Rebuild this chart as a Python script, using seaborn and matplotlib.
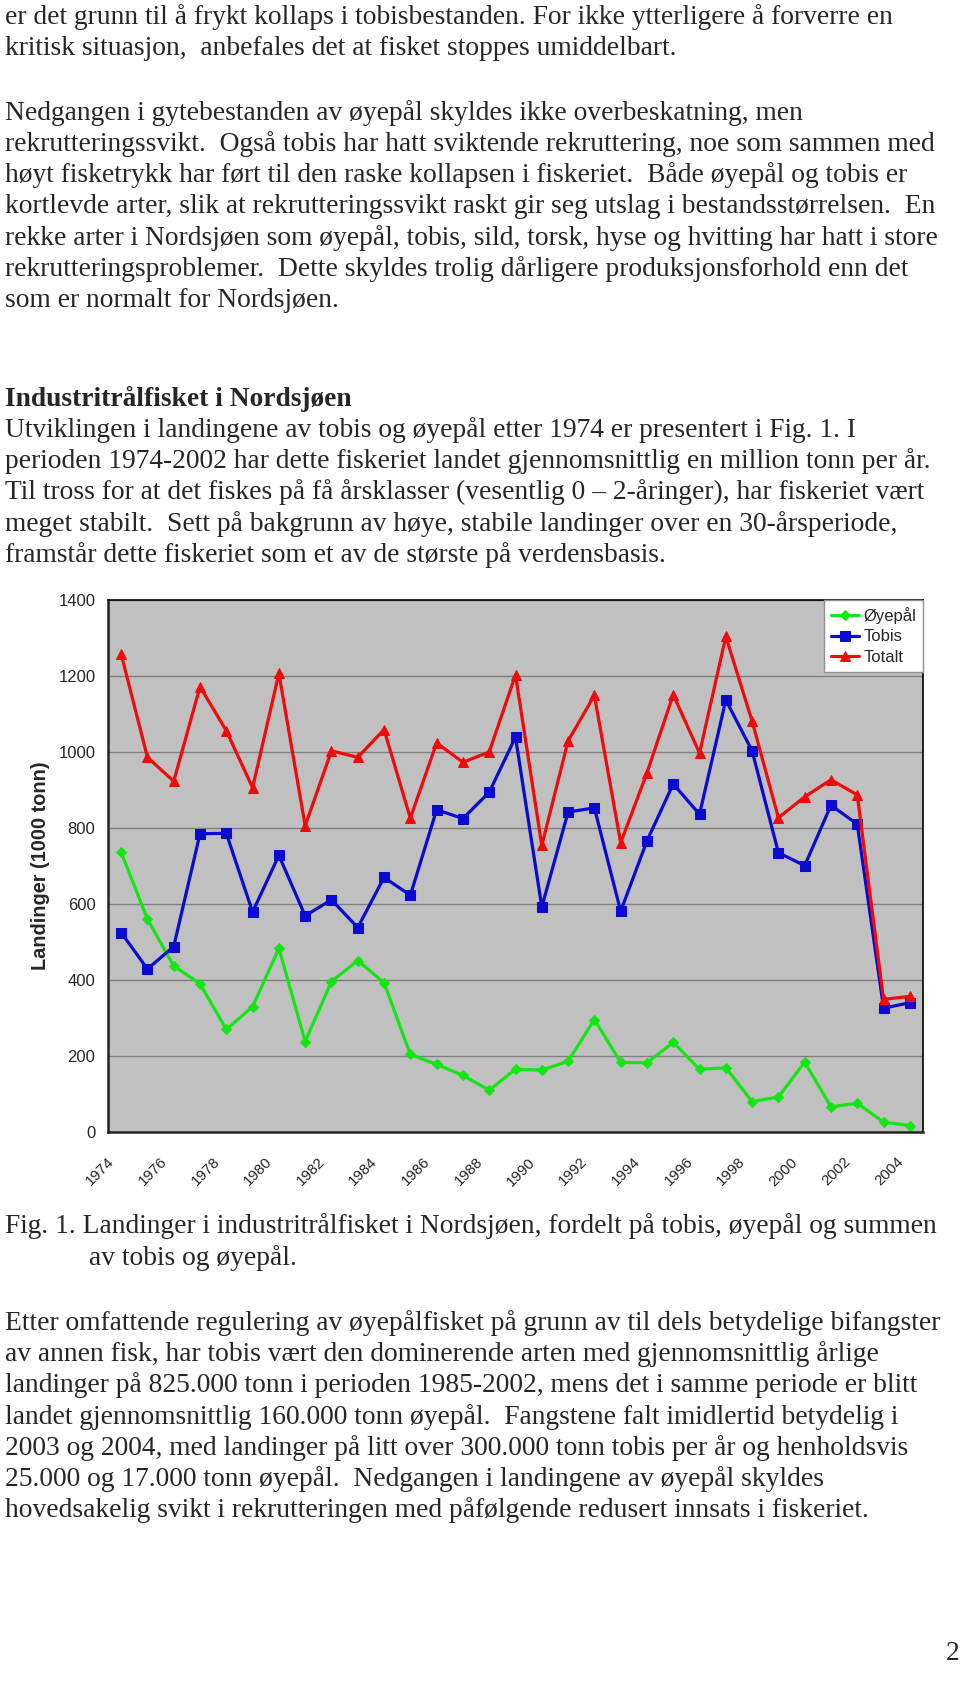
import matplotlib
matplotlib.use("Agg")
import pandas as pd
import matplotlib.pyplot as plt
import matplotlib.transforms as mtransforms
import seaborn as sns
from matplotlib.ticker import FixedLocator

# =========================
# DATA (1000 tonn)
# =========================

years = list(range(1974, 2005))

oyepal = [736, 560, 437, 390, 270, 330, 483, 238, 396, 451, 393, 204, 178, 149, 110,
          165, 163, 186, 296, 183, 182, 236, 165, 169, 80, 92, 184, 66, 76, 26, 17]
tobis = [525, 429, 488, 785, 786, 579, 728, 569, 611, 538, 670, 623, 848, 825, 894,
         1039, 592, 842, 853, 581, 766, 916, 836, 1137, 1003, 735, 701, 860, 810, 326, 340]
totalt = [1258, 986, 923, 1172, 1056, 906, 1207, 806, 1003, 986, 1059, 826, 1024, 973, 1000,
          1203, 754, 1029, 1149, 761, 945, 1151, 997, 1304, 1081, 827, 882, 927, 887, 349, 357]

series_names = ["Øyepål", "Tobis", "Totalt"]
series_colors = ["#14E614", "#0A0AD2", "#F00A0A"]
series_markers = ["D", "s", "^"]
series_sizes = [5, 6.5, 7.5]

year_labels = [str(y) for y in years if y % 2 == 0]

# =========================
# PAGE TEXT
# =========================

para1 = [
    "er det grunn til å frykt kollaps i tobisbestanden. For ikke ytterligere å forverre en",
    "kritisk situasjon,  anbefales det at fisket stoppes umiddelbart.",
]
para2 = [
    "Nedgangen i gytebestanden av øyepål skyldes ikke overbeskatning, men",
    "rekrutteringssvikt.  Også tobis har hatt sviktende rekruttering, noe som sammen med",
    "høyt fisketrykk har ført til den raske kollapsen i fiskeriet.  Både øyepål og tobis er",
    "kortlevde arter, slik at rekrutteringssvikt raskt gir seg utslag i bestandsstørrelsen.  En",
    "rekke arter i Nordsjøen som øyepål, tobis, sild, torsk, hyse og hvitting har hatt i store",
    "rekrutteringsproblemer.  Dette skyldes trolig dårligere produksjonsforhold enn det",
    "som er normalt for Nordsjøen.",
]
heading = "Industritrålfisket i Nordsjøen"
para3 = [
    "Utviklingen i landingene av tobis og øyepål etter 1974 er presentert i Fig. 1. I",
    "perioden 1974-2002 har dette fiskeriet landet gjennomsnittlig en million tonn per år.",
    "Til tross for at det fiskes på få årsklasser (vesentlig 0 – 2-åringer), har fiskeriet vært",
    "meget stabilt.  Sett på bakgrunn av høye, stabile landinger over en 30-årsperiode,",
    "framstår dette fiskeriet som et av de største på verdensbasis.",
]
caption = [
    "Fig. 1. Landinger i industritrålfisket i Nordsjøen, fordelt på tobis, øyepål og summen",
    "av tobis og øyepål.",
]
para4 = [
    "Etter omfattende regulering av øyepålfisket på grunn av til dels betydelige bifangster",
    "av annen fisk, har tobis vært den dominerende arten med gjennomsnittlig årlige",
    "landinger på 825.000 tonn i perioden 1985-2002, mens det i samme periode er blitt",
    "landet gjennomsnittlig 160.000 tonn øyepål.  Fangstene falt imidlertid betydelig i",
    "2003 og 2004, med landinger på litt over 300.000 tonn tobis per år og henholdsvis",
    "25.000 og 17.000 tonn øyepål.  Nedgangen i landingene av øyepål skyldes",
    "hovedsakelig svikt i rekrutteringen med påfølgende redusert innsats i fiskeriet.",
]

# =========================
# FIGURE
# =========================

W, H = 960, 1686
sns.set_style("white")
plt.rcParams["font.family"] = ["Liberation Serif", "DejaVu Serif"]

fig = plt.figure(figsize=(W / 100, H / 100), dpi=100)
fig.patch.set_facecolor("white")

SERIF = 19.85
LINE = 31.2


def put(x, y, s, **kw):
    fig.text(x / W, 1 - y / H, s, va="center", ha="left", **kw)


def block(lines, y0, x=5, **kw):
    for i, s in enumerate(lines):
        put(x, y0 + i * LINE, s, fontsize=SERIF, **kw)


block(para1, 17)
block(para2, 113)
put(5, 399, heading, fontsize=SERIF, fontweight="bold")
block(para3, 430)
put(5, 1226, caption[0], fontsize=SERIF)
put(89, 1258, caption[1], fontsize=SERIF)
block(para4, 1323)
put(946, 1654, "2", fontsize=SERIF)

# =========================
# CHART
# =========================

ax = fig.add_axes([108 / W, 1 - 1132 / H, 815 / W, 532 / H])
ax.set_facecolor("#C0C0C0")

df = pd.DataFrame({"År": years, "Øyepål": oyepal, "Tobis": tobis, "Totalt": totalt})

for name, col, mk, ms in zip(series_names, series_colors, series_markers, series_sizes):
    sns.lineplot(data=df, x="År", y=name, ax=ax, color=col, marker=mk,
                 markersize=ms, markeredgecolor=col, linewidth=2.3, label=name)

ax.set_xlim(years[0] - 0.5, years[-1] + 0.5)
ax.set_ylim(0, 1400)
ax.set_yticks(range(0, 1401, 200))
ax.yaxis.grid(True, color="#808080", linewidth=1)
ax.set_axisbelow(True)

ax.set_xticks([y for y in years if y % 2 == 0])
ax.set_xticklabels(year_labels, rotation=45, ha="right", va="center",
                   rotation_mode="anchor", family="Liberation Sans", fontsize=10.8)
ax.tick_params(axis="x", which="major", length=0, pad=20)
ax.xaxis.set_minor_locator(FixedLocator([y - 0.5 for y in years] + [years[-1] + 0.5]))
ax.tick_params(axis="x", which="minor", length=5, width=1, color="#333333")
ax.tick_params(axis="y", which="major", length=5, width=1, color="#333333", pad=4)
for lbl in ax.get_yticklabels():
    lbl.set_family("Liberation Sans")
    lbl.set_fontsize(12)

# nudge the slanted year labels a little to the left, like Excel does
shift = mtransforms.ScaledTranslation(-9 / 100, 0, fig.dpi_scale_trans)
for lbl in ax.get_xticklabels():
    lbl.set_transform(lbl.get_transform() + shift)

for side in ["top", "right"]:
    ax.spines[side].set_color("black")
    ax.spines[side].set_linewidth(1.2)
for side in ["left", "bottom"]:
    ax.spines[side].set_color("#222222")
    ax.spines[side].set_linewidth(1.8)

ax.set_xlabel("")
ax.set_ylabel("Landinger (1000 tonn)", family="Liberation Sans", fontsize=14.3,
              fontweight="bold", labelpad=6)

leg = ax.legend(loc="upper right", borderaxespad=0, fancybox=False, framealpha=1,
                edgecolor="#909090", prop={"family": "Liberation Sans", "size": 12},
                handlelength=1.7, handletextpad=0.25, borderpad=0.4, labelspacing=0.35)
leg.get_frame().set_linewidth(1)

fig.savefig("out.png", dpi=100)
